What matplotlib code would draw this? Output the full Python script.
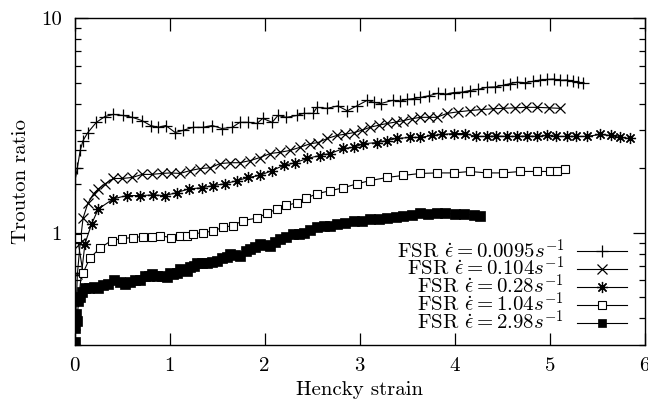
import matplotlib
matplotlib.use("Agg")
import matplotlib.pyplot as plt
import matplotlib.ticker as mticker

plt.rcParams.update({
    "font.family": "cmr10", "mathtext.fontset": "cm", "axes.unicode_minus": False,
    "font.size": 15, "axes.linewidth": 1.0,
})

# FSR, rate 0.0095 s^-1  (+)
x_a = [0.0, 0.03, 0.06, 0.09, 0.14, 0.23, 0.32, 0.41, 0.51, 0.61, 0.71, 0.80, 0.88, 0.96, 1.06,
       1.14, 1.25, 1.35, 1.45, 1.55, 1.66, 1.74, 1.83, 1.92, 1.98, 2.08, 2.14, 2.23, 2.34, 2.41,
       2.51, 2.55, 2.66, 2.77, 2.87, 2.97, 3.08, 3.15, 3.22, 3.35, 3.42, 3.50, 3.57, 3.64, 3.73,
       3.82, 3.90, 3.99, 4.08, 4.16, 4.25, 4.34, 4.42, 4.51, 4.58, 4.66, 4.74, 4.82, 4.90, 4.97,
       5.04, 5.11, 5.18, 5.25, 5.30, 5.35]
y_a = [1.69, 2.01, 2.42, 2.69, 2.93, 3.27, 3.48, 3.56, 3.52, 3.45, 3.33, 3.16, 3.10, 3.16, 2.93,
       3.00, 3.10, 3.10, 3.16, 3.06, 3.10, 3.27, 3.27, 3.23, 3.41, 3.27, 3.52, 3.45, 3.52, 3.60,
       3.60, 3.84, 3.80, 3.90, 3.70, 3.90, 4.14, 4.05, 4.00, 4.14, 4.10, 4.18, 4.22, 4.27, 4.35,
       4.46, 4.42, 4.50, 4.52, 4.60, 4.66, 4.76, 4.78, 4.86, 4.95, 5.03, 5.00, 5.07, 5.15, 5.18,
       5.20, 5.13, 5.15, 5.08, 5.02, 4.96]

# FSR, rate 0.104 s^-1  (x)
x_b = [0.01, 0.03, 0.06, 0.09, 0.14, 0.20, 0.25, 0.32, 0.41, 0.50, 0.61, 0.71, 0.81, 0.92, 1.01,
       1.11, 1.22, 1.32, 1.43, 1.53, 1.64, 1.74, 1.85, 1.95, 2.06, 2.16, 2.27, 2.37, 2.48, 2.56,
       2.66, 2.76, 2.85, 2.94, 3.02, 3.11, 3.20, 3.29, 3.38, 3.46, 3.55, 3.64, 3.73, 3.81, 3.92,
       4.04, 4.16, 4.28, 4.40, 4.51, 4.63, 4.75, 4.87, 4.99, 5.11]
y_b = [0.37, 0.64, 0.90, 1.17, 1.37, 1.52, 1.60, 1.69, 1.79, 1.79, 1.81, 1.87, 1.87, 1.89, 1.90,
       1.89, 1.95, 1.99, 2.01, 2.10, 2.12, 2.12, 2.17, 2.24, 2.34, 2.37, 2.42, 2.50, 2.60, 2.63,
       2.75, 2.84, 2.88, 2.93, 3.00, 3.10, 3.17, 3.23, 3.28, 3.33, 3.40, 3.45, 3.45, 3.45, 3.60,
       3.66, 3.71, 3.75, 3.78, 3.80, 3.82, 3.84, 3.84, 3.82, 3.80]

# FSR, rate 0.28 s^-1  (asterisk)
x_c = [0.04, 0.11, 0.18, 0.25, 0.41, 0.55, 0.69, 0.83, 0.95, 1.08, 1.20, 1.34, 1.46, 1.58, 1.71,
       1.83, 1.95, 2.08, 2.20, 2.32, 2.45, 2.58, 2.69, 2.83, 2.94, 3.04, 3.18, 3.29, 3.39, 3.53,
       3.64, 3.76, 3.87, 3.99, 4.11, 4.22, 4.34, 4.44, 4.55, 4.66, 4.76, 4.87, 4.97, 5.07, 5.18,
       5.28, 5.39, 5.53, 5.64, 5.74, 5.84]
y_c = [0.48, 0.89, 1.10, 1.29, 1.44, 1.49, 1.49, 1.50, 1.49, 1.54, 1.60, 1.62, 1.66, 1.69, 1.75,
       1.81, 1.85, 1.95, 2.06, 2.12, 2.22, 2.29, 2.34, 2.47, 2.50, 2.60, 2.63, 2.69, 2.75, 2.78,
       2.78, 2.84, 2.87, 2.90, 2.90, 2.81, 2.81, 2.82, 2.81, 2.81, 2.82, 2.81, 2.84, 2.81, 2.81,
       2.81, 2.81, 2.87, 2.84, 2.78, 2.75]

# FSR, rate 1.04 s^-1  (open square)
x_d = [0.03, 0.09, 0.16, 0.27, 0.39, 0.50, 0.62, 0.72, 0.82, 0.90, 1.01, 1.11, 1.18, 1.25, 1.35,
       1.46, 1.56, 1.67, 1.77, 1.92, 2.02, 2.13, 2.23, 2.34, 2.44, 2.55, 2.69, 2.83, 2.97, 3.11,
       3.29, 3.46, 3.64, 3.81, 3.99, 4.16, 4.34, 4.51, 4.69, 4.87, 5.00, 5.08, 5.16]
y_d = [0.95, 0.65, 0.76, 0.85, 0.92, 0.94, 0.95, 0.96, 0.96, 0.97, 0.95, 0.97, 0.97, 0.99, 1.00,
       1.02, 1.06, 1.08, 1.14, 1.17, 1.23, 1.29, 1.34, 1.38, 1.45, 1.52, 1.57, 1.62, 1.69, 1.75,
       1.81, 1.85, 1.89, 1.90, 1.90, 1.93, 1.90, 1.90, 1.93, 1.93, 1.93, 1.95, 1.99]

# FSR, rate 2.98 s^-1  (filled square)
x_e = [0.0, 0.01, 0.02, 0.03, 0.04, 0.06, 0.08, 0.11, 0.15, 0.20, 0.25, 0.30, 0.35, 0.42, 0.48,
       0.53, 0.58, 0.64, 0.69, 0.74, 0.78, 0.82, 0.87, 0.92, 0.97, 1.00, 1.04, 1.08, 1.11, 1.15,
       1.18, 1.22, 1.26, 1.29, 1.34, 1.39, 1.45, 1.50, 1.55, 1.60, 1.64, 1.69, 1.74, 1.80, 1.85,
       1.90, 1.95, 2.00, 2.06, 2.11, 2.16, 2.23, 2.30, 2.36, 2.41, 2.48, 2.55, 2.62, 2.69, 2.76,
       2.85, 2.94, 3.02, 3.11, 3.20, 3.29, 3.38, 3.46, 3.55, 3.64, 3.72, 3.81, 3.90, 4.00, 4.10,
       4.20, 4.27]
y_e = [0.31, 0.36, 0.42, 0.39, 0.48, 0.50, 0.53, 0.55, 0.55, 0.56, 0.55, 0.57, 0.58, 0.60, 0.59,
       0.58, 0.59, 0.60, 0.60, 0.63, 0.63, 0.64, 0.63, 0.63, 0.62, 0.65, 0.64, 0.65, 0.68, 0.67,
       0.66, 0.69, 0.70, 0.72, 0.72, 0.72, 0.73, 0.74, 0.76, 0.77, 0.80, 0.79, 0.78, 0.82, 0.84,
       0.86, 0.89, 0.88, 0.87, 0.91, 0.94, 0.96, 0.99, 0.99, 1.00, 1.03, 1.06, 1.07, 1.08, 1.10,
       1.11, 1.14, 1.14, 1.16, 1.16, 1.17, 1.18, 1.20, 1.21, 1.23, 1.22, 1.23, 1.23, 1.22, 1.22,
       1.21, 1.20]

labels = [r"FSR $\dot{\epsilon} = 0.0095s^{-1}$", r"FSR $\dot{\epsilon} = 0.104s^{-1}$",
          r"FSR $\dot{\epsilon} = 0.28s^{-1}$", r"FSR $\dot{\epsilon} = 1.04s^{-1}$",
          r"FSR $\dot{\epsilon} = 2.98s^{-1}$"]

series = [(x_a, y_a, dict(marker="+", ms=9, mew=0.9)),
          (x_b, y_b, dict(marker="x", ms=6.5, mew=0.9)),
          (x_c, y_c, dict(marker=(8, 2, 0), ms=8, mew=0.9)),
          (x_d, y_d, dict(marker="s", ms=6, mew=0.8, mfc="white")),
          (x_e, y_e, dict(marker="s", ms=6.5, mew=0.5, mfc="black"))]

fig = plt.figure(figsize=(6.48, 4.03), dpi=100)
ax = fig.add_axes([0.115, 0.144, 0.880, 0.811])

for (xs, ys, style), lab in zip(series, labels):
    ax.plot(xs, ys, color="black", linewidth=0.8, mec="black", label=lab, **style)

ax.set_yscale("log")
ax.set_xlim(0, 6)
ax.set_ylim(0.3, 10)
ax.set_yticks([1, 10])
ax.yaxis.set_major_formatter(mticker.FixedFormatter(["1", "10"]))
ax.yaxis.set_minor_locator(mticker.LogLocator(base=10, subs=range(2, 10)))
ax.yaxis.set_minor_formatter(mticker.NullFormatter())
ax.set_xticks(range(7))
ax.tick_params(which="both", direction="in", top=True, right=True, width=0.9)
ax.tick_params(which="major", length=9, pad=9)
ax.tick_params(which="minor", length=4.5)

ax.set_xlabel("Hencky strain", labelpad=4)
ax.set_ylabel("Trouton ratio", labelpad=8)

leg = ax.legend(loc="lower right", bbox_to_anchor=(0.983, 0.008), markerfirst=False,
                frameon=False, handlelength=2.4, labelspacing=-0.3, handletextpad=0.6,
                borderaxespad=0.0, fontsize=15)
# filled square key a touch smaller, like the original
leg.legend_handles[4].set_markersize(5.5)

fig.savefig("out.png", dpi=100)
